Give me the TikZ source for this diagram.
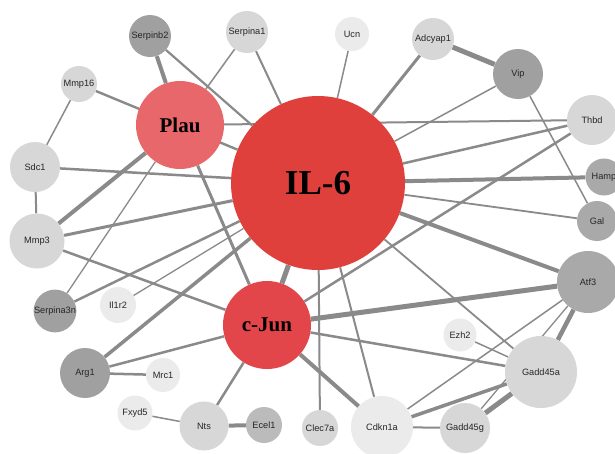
\documentclass[tikz,border=0pt]{standalone}
\usepackage{fontspec}
\setmainfont{Liberation Serif}
\setsansfont{Liberation Sans}
\pgfdeclarelayer{bg}
\pgfsetlayers{bg,main}
\definecolor{ilcol}{HTML}{E0403C}
\definecolor{plcol}{HTML}{E8676B}
\definecolor{cjcol}{HTML}{E3464A}
\definecolor{dk}{HTML}{A0A0A0}
\definecolor{md}{HTML}{A9A9A9}
\definecolor{ec}{HTML}{BBBBBB}
\definecolor{lt}{HTML}{D7D7D7}
\definecolor{vl}{HTML}{EBEBEB}
\definecolor{edgecol}{HTML}{8A8A8A}
\begin{document}
\begin{tikzpicture}[x=1pt,y=-1pt,
  gn/.style={circle, inner sep=0pt, draw=none, minimum size=#1, font=\sffamily\fontsize{9.2}{10}\selectfont, text=black!85},
  hub/.style={circle, inner sep=0pt, draw=none, minimum size=#1, font=\rmfamily\bfseries},
  lnk/.style={draw=edgecol, line width=#1}]
\clip (0,0) rectangle (615,453);
% hubs
\node[hub=174pt, fill=ilcol, font=\rmfamily\bfseries\fontsize{35}{40}\selectfont] (IL6) at (318,183) {IL-6};
\node[hub=88pt, fill=plcol, font=\rmfamily\bfseries\fontsize{21}{24}\selectfont] (Plau) at (180,125) {Plau};
\node[hub=88pt, fill=cjcol, font=\rmfamily\bfseries\fontsize{21}{24}\selectfont] (cJun) at (267,325) {c-Jun};
% gene nodes
\node[gn=42pt, fill=dk] (Serpinb2) at (150,36) {Serpinb2};
\node[gn=42pt, fill=lt] (Serpina1) at (247,32) {Serpina1};
\node[gn=36pt, fill=lt] (Mmp16) at (79,84) {Mmp16};
\node[gn=50pt, fill=lt] (Sdc1) at (35,167) {Sdc1};
\node[gn=55pt, fill=lt] (Mmp3) at (37,241) {Mmp3};
\node[gn=42pt, fill=dk] (Serpina3n) at (55,311) {Serpina3n};
\node[gn=36pt, fill=vl] (Il1r2) at (118,305) {Il1r2};
\node[gn=50pt, fill=dk] (Arg1) at (85,373) {Arg1};
\node[gn=34pt, fill=vl] (Mrc1) at (163,375) {Mrc1};
\node[gn=35pt, fill=vl] (Fxyd5) at (135,413) {Fxyd5};
\node[gn=49pt, fill=lt] (Nts) at (204,426) {Nts};
\node[gn=36pt, fill=ec] (Ecel1) at (264,425) {Ecel1};
\node[gn=36pt, fill=lt] (Clec7a) at (320,428) {Clec7a};
\node[gn=62pt, fill=vl] (Cdkn1a) at (382,427) {Cdkn1a};
\node[gn=50pt, fill=lt] (Gadd45g) at (465,428) {Gadd45g};
\node[gn=72pt, fill=lt] (Gadd45a) at (541,372) {Gadd45a};
\node[gn=33pt, fill=vl] (Ezh2) at (460,335) {Ezh2};
\node[gn=62pt, fill=md] (Atf3) at (588,282) {Atf3};
\node[gn=40pt, fill=md] (Gal) at (597,221) {Gal};
\node[gn=37pt, fill=md] (Hamp) at (604,177) {Hamp};
\node[gn=50pt, fill=lt] (Thbd) at (592,120) {Thbd};
\node[gn=50pt, fill=dk] (Vip) at (518,74) {Vip};
\node[gn=42pt, fill=lt] (Adcyap1) at (433,39) {Adcyap1};
\node[gn=34pt, fill=vl] (Ucn) at (352,34) {Ucn};
% edges
\begin{pgfonlayer}{bg}
\fill[white] (0,0) rectangle (615,453);
\draw[lnk=4] (Serpinb2) -- (Plau);
\draw[lnk=2.2] (Serpinb2) -- (IL6);
\draw[lnk=1.5] (Serpina1) -- (Plau);
\draw[lnk=2] (Serpina1) -- (IL6);
\draw[lnk=2.4] (Mmp16) -- (IL6);
\draw[lnk=1.5] (Mmp16) -- (Sdc1);
\draw[lnk=2] (Plau) -- (Thbd);
\draw[lnk=2.5] (Sdc1) -- (IL6);
\draw[lnk=2] (Sdc1) -- (Mmp3);
\draw[lnk=4] (Plau) -- (Mmp3);
\draw[lnk=1.3] (Plau) -- (Serpina3n);
\draw[lnk=3] (Plau) -- (cJun);
\draw[lnk=3] (Mmp3) -- (IL6);
\draw[lnk=2.5] (Mmp3) -- (cJun);
\draw[lnk=2.5] (Serpina3n) -- (IL6);
\draw[lnk=1.3] (Il1r2) -- (IL6);
\draw[lnk=3.5] (Arg1) -- (IL6);
\draw[lnk=2.5] (Arg1) -- (cJun);
\draw[lnk=2.5] (Arg1) -- (Mrc1);
\draw[lnk=1.5] (Fxyd5) -- (Nts);
\draw[lnk=2.5] (Nts) -- (cJun);
\draw[lnk=4] (Nts) -- (Ecel1);
\draw[lnk=5] (cJun) -- (IL6);
\draw[lnk=1.5] (Ucn) -- (IL6);
\draw[lnk=3] (Adcyap1) -- (IL6);
\draw[lnk=5] (Adcyap1) -- (Vip);
\draw[lnk=1.5] (Vip) -- (IL6);
\draw[lnk=1.5] (Vip) -- (Gal);
\draw[lnk=2.5] (Thbd) -- (IL6);
\draw[lnk=2.5] (Thbd) -- (cJun);
\draw[lnk=4] (Hamp) -- (IL6);
\draw[lnk=1.8] (Gal) -- (IL6);
\draw[lnk=4] (IL6) -- (Atf3);
\draw[lnk=1.8] (IL6) -- (Gadd45a);
\draw[lnk=5] (cJun) -- (Atf3);
\draw[lnk=2.5] (cJun) -- (Gadd45a);
\draw[lnk=1.5] (Ezh2) -- (Gadd45a);
\draw[lnk=1.5] (Atf3) -- (Cdkn1a);
\draw[lnk=1.3] (Atf3) -- (Gadd45g);
\draw[lnk=4.5] (Atf3) -- (Gadd45a);
\draw[lnk=5] (Gadd45a) -- (Gadd45g);
\draw[lnk=3.5] (Gadd45a) -- (Cdkn1a);
\draw[lnk=2] (Cdkn1a) -- (Gadd45g);
\draw[lnk=2] (IL6) -- (Cdkn1a);
\draw[lnk=4] (cJun) -- (Cdkn1a);
\draw[lnk=2] (IL6) -- (Clec7a);
\end{pgfonlayer}
\end{tikzpicture}
\end{document}
